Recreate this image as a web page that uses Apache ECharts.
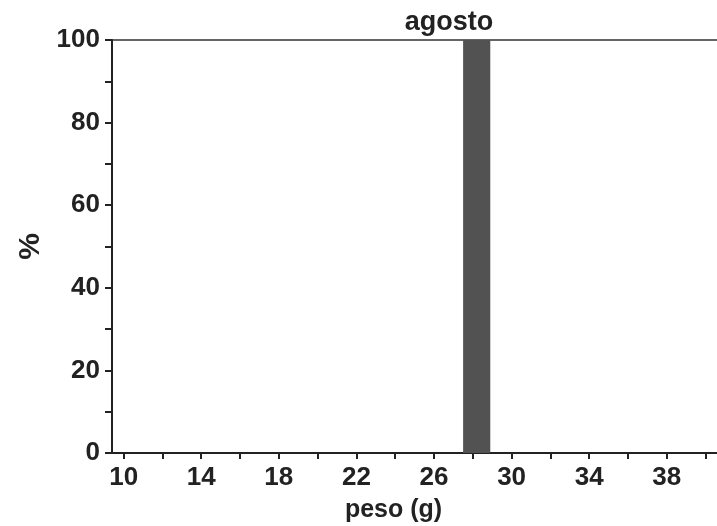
<!DOCTYPE html>
<html>
<head>
<meta charset="utf-8">
<script src="https://cdn.jsdelivr.net/npm/echarts@6/dist/echarts.min.js"></script>
<style>
  html, body { margin: 0; padding: 0; background: #fff; }
  #chart { width: 717px; height: 526px; }
</style>
</head>
<body>
<div id="chart"></div>
<script>
// Weight histogram for August: one bin holds every sample
const binStart = [27.5];
const binEnd = [28.9];
const binPercent = [100];

const xTickValues = [10, 12, 14, 16, 18, 20, 22, 24, 26, 28, 30, 32, 34, 36, 38, 40];
const xLabelValues = [10, 14, 18, 22, 26, 30, 34, 38];
const yTickValues = [0, 10, 20, 30, 40, 50, 60, 70, 80, 90, 100];
const yLabelValues = [0, 20, 40, 60, 80, 100];

const ink = '#222';
const labelFont = { color: ink, fontWeight: 'bold', fontFamily: 'Liberation Sans', fontSize: 26 };

const chart = echarts.init(document.getElementById('chart'), null, { renderer: 'canvas' });

chart.setOption({
  animation: false,
  backgroundColor: '#fff',
  title: {
    text: 'agosto',
    left: 444,
    top: 4,
    textAlign: 'center',
    textStyle: { color: ink, fontWeight: 'bold', fontFamily: 'Liberation Sans', fontSize: 27 }
  },
  grid: {
    left: 112, top: 40, bottom: 73, right: -8,
    outerBoundsMode: 'none',
    containLabel: false,
    show: true, borderColor: '#333', borderWidth: 1.5, backgroundColor: 'transparent'
  },
  xAxis: {
    type: 'value',
    min: 9.4,
    max: 41,
    name: 'peso (g)',
    nameLocation: 'middle',
    nameGap: 45,
    nameTextStyle: Object.assign({}, labelFont, { fontSize: 25, padding: [0, 50, 0, 0] }),
    splitLine: { show: false },
    axisLine: { show: true, onZero: false, lineStyle: { color: ink, width: 2 } },
    axisTick: { show: true, inside: false, length: 6, customValues: xTickValues, lineStyle: { color: ink, width: 2 } },
    axisLabel: { show: true, margin: 12, customValues: xLabelValues, ...labelFont }
  },
  yAxis: {
    type: 'value',
    min: 0,
    max: 100,
    name: '%',
    nameLocation: 'middle',
    nameRotate: 90,
    nameGap: 66,
    nameTextStyle: Object.assign({}, labelFont, { fontSize: 30 }),
    splitLine: { show: false },
    axisLine: { show: true, lineStyle: { color: ink, width: 2 } },
    axisTick: { show: true, inside: false, length: 7, customValues: yTickValues, lineStyle: { color: ink, width: 2 } },
    axisLabel: { show: true, margin: 12, customValues: yLabelValues, ...labelFont }
  },
  series: [{
    type: 'custom',
    data: binStart.map((s, i) => [s, binEnd[i], binPercent[i]]),
    encode: { x: [0, 1], y: 2 },
    renderItem: function (params, api) {
      const p0 = api.coord([api.value(0), api.value(2)]);
      const p1 = api.coord([api.value(1), 0]);
      return {
        type: 'rect',
        shape: { x: p0[0], y: p0[1], width: p1[0] - p0[0], height: p1[1] - p0[1] },
        style: { fill: '#525252' }
      };
    }
  }]
});
</script>
</body>
</html>
